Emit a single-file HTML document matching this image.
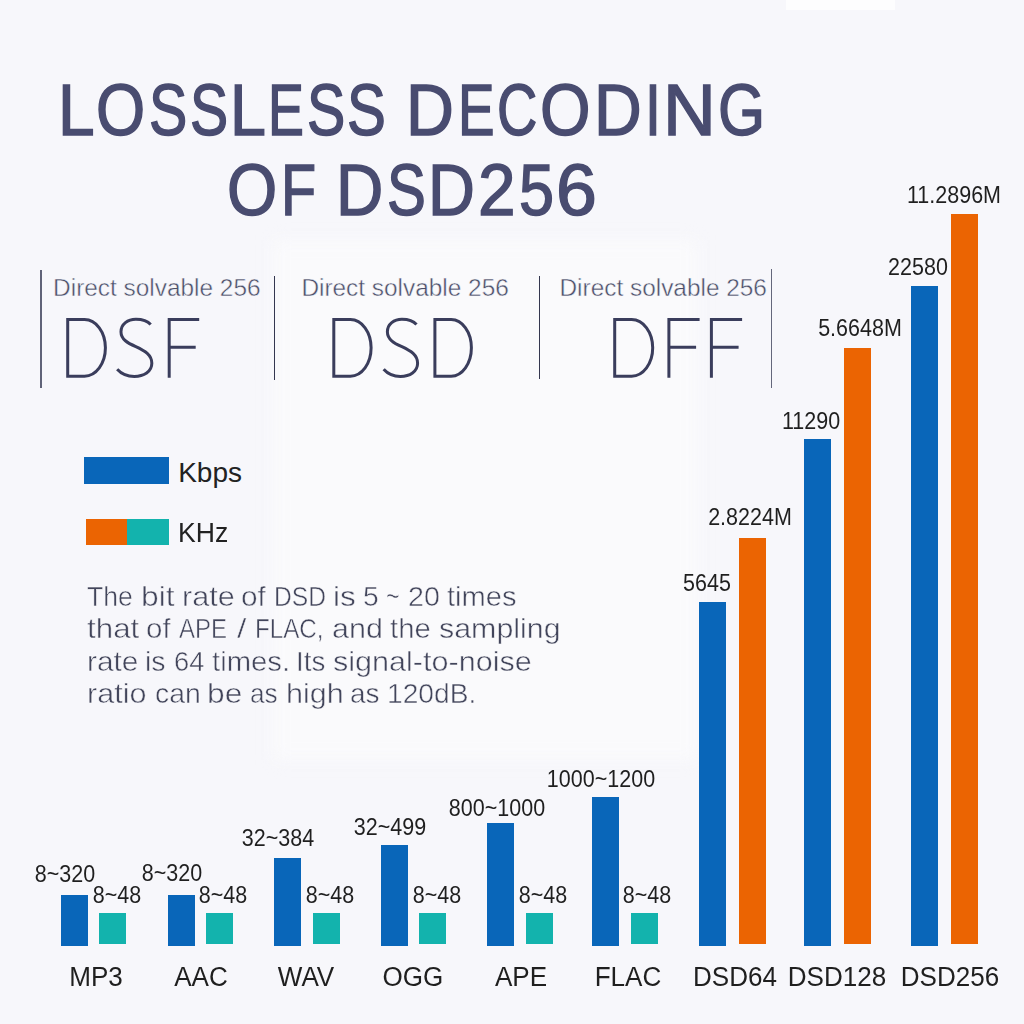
<!DOCTYPE html>
<html><head><meta charset="utf-8"><style>
html,body{margin:0;padding:0;}
body{width:1024px;height:1024px;overflow:hidden;position:relative;background:#f7f7fb;font-family:"Liberation Sans",sans-serif;}
.t{position:absolute;white-space:nowrap;line-height:1;}
.r{position:absolute;}
</style></head><body>
<div class="r" style="left:786px;top:0;width:109px;height:10px;background:#fdfdfe"></div>
<div class="r" style="left:273px;top:240px;width:425px;height:520px;background:#fafafc;filter:blur(8px)"></div>
<div class="t" style="left:57.69px;top:74.98px;font-size:71.5px;color:#494c70;transform-origin:0 0;transform:scaleX(0.9203);-webkit-text-stroke:1.5px #494c70;">L</div>
<div class="t" style="left:95.79px;top:74.98px;font-size:71.5px;color:#494c70;transform-origin:0 0;transform:scaleX(0.8841);-webkit-text-stroke:1.5px #494c70;">O</div>
<div class="t" style="left:148.66px;top:74.98px;font-size:71.5px;color:#494c70;transform-origin:0 0;transform:scaleX(0.8026);-webkit-text-stroke:1.5px #494c70;">S</div>
<div class="t" style="left:189.77px;top:74.98px;font-size:71.5px;color:#494c70;transform-origin:0 0;transform:scaleX(0.8002);-webkit-text-stroke:1.5px #494c70;">S</div>
<div class="t" style="left:230.29px;top:74.98px;font-size:71.5px;color:#494c70;transform-origin:0 0;transform:scaleX(0.9022);-webkit-text-stroke:1.5px #494c70;">L</div>
<div class="t" style="left:267.65px;top:74.98px;font-size:71.5px;color:#494c70;transform-origin:0 0;transform:scaleX(0.7527);-webkit-text-stroke:1.5px #494c70;">E</div>
<div class="t" style="left:306.76px;top:74.98px;font-size:71.5px;color:#494c70;transform-origin:0 0;transform:scaleX(0.8026);-webkit-text-stroke:1.5px #494c70;">S</div>
<div class="t" style="left:347.23px;top:74.98px;font-size:71.5px;color:#494c70;transform-origin:0 0;transform:scaleX(0.8143);-webkit-text-stroke:1.5px #494c70;">S</div>
<div class="t" style="left:405.96px;top:74.98px;font-size:71.5px;color:#494c70;transform-origin:0 0;transform:scaleX(0.9263);-webkit-text-stroke:1.5px #494c70;">D</div>
<div class="t" style="left:457.59px;top:74.98px;font-size:71.5px;color:#494c70;transform-origin:0 0;transform:scaleX(0.7652);-webkit-text-stroke:1.5px #494c70;">E</div>
<div class="t" style="left:497.44px;top:74.98px;font-size:71.5px;color:#494c70;transform-origin:0 0;transform:scaleX(0.7806);-webkit-text-stroke:1.5px #494c70;">C</div>
<div class="t" style="left:540.23px;top:74.98px;font-size:71.5px;color:#494c70;transform-origin:0 0;transform:scaleX(0.9079);-webkit-text-stroke:1.5px #494c70;">O</div>
<div class="t" style="left:593.58px;top:74.98px;font-size:71.5px;color:#494c70;transform-origin:0 0;transform:scaleX(0.9241);-webkit-text-stroke:1.5px #494c70;">D</div>
<div class="t" style="left:645.12px;top:74.98px;font-size:71.5px;color:#494c70;transform-origin:0 0;transform:scaleX(0.8028);-webkit-text-stroke:1.5px #494c70;">I</div>
<div class="t" style="left:662.87px;top:74.98px;font-size:71.5px;color:#494c70;transform-origin:0 0;transform:scaleX(1.0225);-webkit-text-stroke:1.5px #494c70;">N</div>
<div class="t" style="left:718.31px;top:74.98px;font-size:71.5px;color:#494c70;transform-origin:0 0;transform:scaleX(0.8467);-webkit-text-stroke:1.5px #494c70;">G</div>
<div class="t" style="left:227.45px;top:155.38px;font-size:71.5px;color:#494c70;transform-origin:0 0;transform:scaleX(0.9020);-webkit-text-stroke:1.5px #494c70;">O</div>
<div class="t" style="left:281.39px;top:155.38px;font-size:71.5px;color:#494c70;transform-origin:0 0;transform:scaleX(0.8035);-webkit-text-stroke:1.5px #494c70;">F</div>
<div class="t" style="left:336.02px;top:155.38px;font-size:71.5px;color:#494c70;transform-origin:0 0;transform:scaleX(0.9149);-webkit-text-stroke:1.5px #494c70;">D</div>
<div class="t" style="left:386.53px;top:155.38px;font-size:71.5px;color:#494c70;transform-origin:0 0;transform:scaleX(0.8143);-webkit-text-stroke:1.5px #494c70;">S</div>
<div class="t" style="left:427.96px;top:155.38px;font-size:71.5px;color:#494c70;transform-origin:0 0;transform:scaleX(0.9081);-webkit-text-stroke:1.5px #494c70;">D</div>
<div class="t" style="left:478.33px;top:155.38px;font-size:71.5px;color:#494c70;transform-origin:0 0;transform:scaleX(0.9442);-webkit-text-stroke:1.5px #494c70;">2</div>
<div class="t" style="left:518.84px;top:155.38px;font-size:71.5px;color:#494c70;transform-origin:0 0;transform:scaleX(0.8816);-webkit-text-stroke:1.5px #494c70;">5</div>
<div class="t" style="left:556.42px;top:155.38px;font-size:71.5px;color:#494c70;transform-origin:0 0;transform:scaleX(1.0272);-webkit-text-stroke:1.5px #494c70;">6</div>
<div class="t" style="left:53.10px;top:275.75px;font-size:24.4px;color:#4a4e68;-webkit-text-stroke:0.45px #f7f7fb;">Direct solvable 256</div>
<div class="t" style="left:301.40px;top:275.75px;font-size:24.4px;color:#4a4e68;-webkit-text-stroke:0.45px #f7f7fb;">Direct solvable 256</div>
<div class="t" style="left:559.50px;top:275.75px;font-size:24.4px;color:#4a4e68;-webkit-text-stroke:0.45px #f7f7fb;">Direct solvable 256</div>
<svg class="r" style="left:0;top:0" width="1024" height="420" viewBox="0 0 1024 420"><path d="M67.70,319.50H84.52A20.89,28.35 0 0 1 84.52,376.20H67.70Z M150.69,324.57C146.88,320.09 142.31,319.19 135.83,319.19C127.83,319.19 120.97,323.97 120.97,331.73C120.97,339.49 127.83,343.07 135.83,346.66C144.97,350.83 151.83,355.01 151.83,363.37C151.83,371.73 143.83,376.51 134.31,376.51C127.07,376.51 120.97,373.52 117.16,369.34 M169.20,377.70V319.50H199.20M169.20,347.25H195.70 M333.80,319.50H350.44A20.67,28.35 0 0 1 350.44,376.20H333.80Z M416.47,324.57C412.74,320.09 408.26,319.19 401.92,319.19C394.09,319.19 387.38,323.97 387.38,331.73C387.38,339.49 394.09,343.07 401.92,346.66C410.88,350.83 417.59,355.01 417.59,363.37C417.59,371.73 409.76,376.51 400.43,376.51C393.34,376.51 387.38,373.52 383.65,369.34 M434.90,319.50H451.17A20.23,28.35 0 0 1 451.17,376.20H434.90Z M614.70,319.50H631.65A21.05,28.35 0 0 1 631.65,376.20H614.70Z M668.90,377.70V319.50H699.60M668.90,347.25H696.10 M711.40,377.70V319.50H742.10M711.40,347.25H738.60" fill="none" stroke="#3a3d5c" stroke-width="3.0" stroke-linejoin="miter"/></svg>
<div class="r" style="left:40.35px;top:269.60px;width:1.30px;height:118.10px;background:#606378"></div>
<div class="r" style="left:273.70px;top:275.80px;width:1.60px;height:104.30px;background:#34374f"></div>
<div class="r" style="left:538.70px;top:275.80px;width:1.60px;height:103.70px;background:#34374f"></div>
<div class="r" style="left:771.05px;top:268.70px;width:1.30px;height:119.50px;background:#64677b"></div>
<div class="r" style="left:84.00px;top:457.00px;width:85.00px;height:27.00px;background:#0966b9"></div>
<div class="r" style="left:86.00px;top:518.70px;width:40.60px;height:26.30px;background:#eb6402"></div>
<div class="r" style="left:126.60px;top:518.70px;width:42.20px;height:26.30px;background:#13b3ad"></div>
<div class="t" style="left:178.20px;top:458.80px;font-size:28px;color:#222;">Kbps</div>
<div class="t" style="left:178.20px;top:519.00px;font-size:28px;color:#222;transform-origin:0 0;transform:scaleX(0.9500);">KHz</div>
<div class="t" style="left:86.51px;top:582.90px;font-size:28px;color:#42455b;transform-origin:0 0;transform:scaleX(0.9505);-webkit-text-stroke:0.5px #fafafc;">The</div>
<div class="t" style="left:140.94px;top:582.90px;font-size:28px;color:#42455b;transform-origin:0 0;transform:scaleX(1.1324);-webkit-text-stroke:0.5px #fafafc;">bit</div>
<div class="t" style="left:181.78px;top:582.90px;font-size:28px;color:#42455b;transform-origin:0 0;transform:scaleX(1.0938);-webkit-text-stroke:0.5px #fafafc;">rate</div>
<div class="t" style="left:240.55px;top:582.90px;font-size:28px;color:#42455b;transform-origin:0 0;transform:scaleX(1.0629);-webkit-text-stroke:0.5px #fafafc;">of</div>
<div class="t" style="left:274.08px;top:582.90px;font-size:28px;color:#42455b;transform-origin:0 0;transform:scaleX(0.8798);-webkit-text-stroke:0.5px #fafafc;">DSD</div>
<div class="t" style="left:332.59px;top:582.90px;font-size:28px;color:#42455b;transform-origin:0 0;transform:scaleX(1.1251);-webkit-text-stroke:0.5px #fafafc;">is</div>
<div class="t" style="left:362.87px;top:582.90px;font-size:28px;color:#42455b;transform-origin:0 0;transform:scaleX(1.0096);-webkit-text-stroke:0.5px #fafafc;">5</div>
<div class="t" style="left:385.65px;top:582.90px;font-size:28px;color:#42455b;transform-origin:0 0;transform:scaleX(0.8314);-webkit-text-stroke:0.5px #fafafc;">~</div>
<div class="t" style="left:407.77px;top:582.90px;font-size:28px;color:#42455b;transform-origin:0 0;transform:scaleX(1.0229);-webkit-text-stroke:0.5px #fafafc;">20</div>
<div class="t" style="left:446.56px;top:582.90px;font-size:28px;color:#42455b;transform-origin:0 0;transform:scaleX(1.0387);-webkit-text-stroke:0.5px #fafafc;">times</div>
<div class="t" style="left:86.83px;top:615.10px;font-size:28px;color:#42455b;transform-origin:0 0;transform:scaleX(1.1196);-webkit-text-stroke:0.5px #fafafc;">that</div>
<div class="t" style="left:145.86px;top:615.10px;font-size:28px;color:#42455b;transform-origin:0 0;transform:scaleX(1.0539);-webkit-text-stroke:0.5px #fafafc;">of</div>
<div class="t" style="left:178.65px;top:615.10px;font-size:28px;color:#42455b;transform-origin:0 0;transform:scaleX(0.8563);-webkit-text-stroke:0.5px #fafafc;">APE</div>
<div class="t" style="left:237.30px;top:615.10px;font-size:28px;color:#42455b;transform-origin:0 0;transform:scaleX(1.2076);-webkit-text-stroke:0.5px #fafafc;">/</div>
<div class="t" style="left:255.32px;top:615.10px;font-size:28px;color:#42455b;transform-origin:0 0;transform:scaleX(0.8640);-webkit-text-stroke:0.5px #fafafc;">FLAC,</div>
<div class="t" style="left:332.02px;top:615.10px;font-size:28px;color:#42455b;transform-origin:0 0;transform:scaleX(1.0883);-webkit-text-stroke:0.5px #fafafc;">and</div>
<div class="t" style="left:390.26px;top:615.10px;font-size:28px;color:#42455b;transform-origin:0 0;transform:scaleX(1.0465);-webkit-text-stroke:0.5px #fafafc;">the</div>
<div class="t" style="left:438.65px;top:615.10px;font-size:28px;color:#42455b;transform-origin:0 0;transform:scaleX(1.0851);-webkit-text-stroke:0.5px #fafafc;">sampling</div>
<div class="t" style="left:86.53px;top:647.90px;font-size:28px;color:#42455b;transform-origin:0 0;transform:scaleX(1.0650);-webkit-text-stroke:0.5px #fafafc;">rate</div>
<div class="t" style="left:145.19px;top:647.90px;font-size:28px;color:#42455b;transform-origin:0 0;transform:scaleX(1.0155);-webkit-text-stroke:0.5px #fafafc;">is</div>
<div class="t" style="left:173.81px;top:647.90px;font-size:28px;color:#42455b;transform-origin:0 0;transform:scaleX(0.9759);-webkit-text-stroke:0.5px #fafafc;">64</div>
<div class="t" style="left:212.26px;top:647.90px;font-size:28px;color:#42455b;transform-origin:0 0;transform:scaleX(1.0459);-webkit-text-stroke:0.5px #fafafc;">times.</div>
<div class="t" style="left:295.95px;top:647.90px;font-size:28px;color:#42455b;transform-origin:0 0;transform:scaleX(0.9891);-webkit-text-stroke:0.5px #fafafc;">Its</div>
<div class="t" style="left:333.14px;top:647.90px;font-size:28px;color:#42455b;transform-origin:0 0;transform:scaleX(1.0913);-webkit-text-stroke:0.5px #fafafc;">signal-to-noise</div>
<div class="t" style="left:86.68px;top:680.40px;font-size:28px;color:#42455b;transform-origin:0 0;transform:scaleX(1.0907);-webkit-text-stroke:0.5px #fafafc;">ratio</div>
<div class="t" style="left:154.61px;top:680.40px;font-size:28px;color:#42455b;transform-origin:0 0;transform:scaleX(1.0133);-webkit-text-stroke:0.5px #fafafc;">can</div>
<div class="t" style="left:207.44px;top:680.40px;font-size:28px;color:#42455b;transform-origin:0 0;transform:scaleX(1.1323);-webkit-text-stroke:0.5px #fafafc;">be</div>
<div class="t" style="left:249.90px;top:680.40px;font-size:28px;color:#42455b;transform-origin:0 0;transform:scaleX(0.9349);-webkit-text-stroke:0.5px #fafafc;">as</div>
<div class="t" style="left:285.69px;top:680.40px;font-size:28px;color:#42455b;transform-origin:0 0;transform:scaleX(1.0922);-webkit-text-stroke:0.5px #fafafc;">high</div>
<div class="t" style="left:350.13px;top:680.40px;font-size:28px;color:#42455b;transform-origin:0 0;transform:scaleX(0.9969);-webkit-text-stroke:0.5px #fafafc;">as</div>
<div class="t" style="left:387.26px;top:680.40px;font-size:28px;color:#42455b;transform-origin:0 0;transform:scaleX(1.0061);-webkit-text-stroke:0.5px #fafafc;">120dB.</div>
<div class="r" style="left:61.00px;top:895.00px;width:27.00px;height:50.60px;background:#0966b9"></div>
<div class="r" style="left:99.20px;top:913.00px;width:27.00px;height:30.80px;background:#13b3ad"></div>
<div class="r" style="left:168.00px;top:895.00px;width:27.00px;height:50.60px;background:#0966b9"></div>
<div class="r" style="left:206.00px;top:913.00px;width:27.00px;height:30.80px;background:#13b3ad"></div>
<div class="r" style="left:274.00px;top:858.00px;width:27.00px;height:87.60px;background:#0966b9"></div>
<div class="r" style="left:312.50px;top:913.00px;width:27.00px;height:30.80px;background:#13b3ad"></div>
<div class="r" style="left:381.00px;top:845.00px;width:27.00px;height:100.60px;background:#0966b9"></div>
<div class="r" style="left:419.00px;top:913.00px;width:27.00px;height:30.80px;background:#13b3ad"></div>
<div class="r" style="left:487.00px;top:823.00px;width:27.00px;height:122.60px;background:#0966b9"></div>
<div class="r" style="left:525.70px;top:913.00px;width:27.00px;height:30.80px;background:#13b3ad"></div>
<div class="r" style="left:592.00px;top:797.00px;width:27.00px;height:148.60px;background:#0966b9"></div>
<div class="r" style="left:630.50px;top:913.00px;width:27.00px;height:30.80px;background:#13b3ad"></div>
<div class="r" style="left:699.00px;top:601.70px;width:27.00px;height:343.90px;background:#0966b9"></div>
<div class="r" style="left:738.50px;top:537.50px;width:27.00px;height:406.30px;background:#eb6402"></div>
<div class="r" style="left:804.00px;top:439.30px;width:27.00px;height:506.30px;background:#0966b9"></div>
<div class="r" style="left:843.50px;top:348.00px;width:27.00px;height:595.80px;background:#eb6402"></div>
<div class="r" style="left:910.50px;top:286.30px;width:27.00px;height:659.30px;background:#0966b9"></div>
<div class="r" style="left:950.50px;top:214.20px;width:27.00px;height:729.60px;background:#eb6402"></div>
<div class="t" style="left:15.50px;top:963.84px;width:160px;text-align:center;font-size:27px;color:#1f1f1f;transform:scaleX(0.9650);">MP3</div>
<div class="t" style="left:121.00px;top:963.84px;width:160px;text-align:center;font-size:27px;color:#1f1f1f;transform:scaleX(0.9650);">AAC</div>
<div class="t" style="left:226.00px;top:963.84px;width:160px;text-align:center;font-size:27px;color:#1f1f1f;transform:scaleX(0.9650);">WAV</div>
<div class="t" style="left:333.00px;top:963.84px;width:160px;text-align:center;font-size:27px;color:#1f1f1f;transform:scaleX(0.9650);">OGG</div>
<div class="t" style="left:441.00px;top:963.84px;width:160px;text-align:center;font-size:27px;color:#1f1f1f;transform:scaleX(0.9650);">APE</div>
<div class="t" style="left:548.00px;top:963.84px;width:160px;text-align:center;font-size:27px;color:#1f1f1f;transform:scaleX(0.9650);">FLAC</div>
<div class="t" style="left:654.50px;top:963.84px;width:160px;text-align:center;font-size:27px;color:#1f1f1f;transform:scaleX(0.9650);">DSD64</div>
<div class="t" style="left:756.50px;top:963.84px;width:160px;text-align:center;font-size:27px;color:#1f1f1f;transform:scaleX(0.9650);">DSD128</div>
<div class="t" style="left:870.00px;top:963.84px;width:160px;text-align:center;font-size:27px;color:#1f1f1f;transform:scaleX(0.9650);">DSD256</div>
<div class="t" style="left:-15.00px;top:862.53px;width:160px;text-align:center;font-size:23px;color:#1f1f1f;transform:scaleX(0.9350);">8~320</div>
<div class="t" style="left:37.30px;top:884.23px;width:160px;text-align:center;font-size:23px;color:#1f1f1f;transform:scaleX(0.9350);">8~48</div>
<div class="t" style="left:91.50px;top:862.03px;width:160px;text-align:center;font-size:23px;color:#1f1f1f;transform:scaleX(0.9350);">8~320</div>
<div class="t" style="left:143.30px;top:883.83px;width:160px;text-align:center;font-size:23px;color:#1f1f1f;transform:scaleX(0.9350);">8~48</div>
<div class="t" style="left:198.00px;top:827.03px;width:160px;text-align:center;font-size:23px;color:#1f1f1f;transform:scaleX(0.9350);">32~384</div>
<div class="t" style="left:250.20px;top:883.83px;width:160px;text-align:center;font-size:23px;color:#1f1f1f;transform:scaleX(0.9350);">8~48</div>
<div class="t" style="left:310.00px;top:816.03px;width:160px;text-align:center;font-size:23px;color:#1f1f1f;transform:scaleX(0.9350);">32~499</div>
<div class="t" style="left:356.50px;top:883.83px;width:160px;text-align:center;font-size:23px;color:#1f1f1f;transform:scaleX(0.9350);">8~48</div>
<div class="t" style="left:416.50px;top:797.03px;width:160px;text-align:center;font-size:23px;color:#1f1f1f;transform:scaleX(0.9350);">800~1000</div>
<div class="t" style="left:463.00px;top:883.83px;width:160px;text-align:center;font-size:23px;color:#1f1f1f;transform:scaleX(0.9350);">8~48</div>
<div class="t" style="left:520.70px;top:768.33px;width:160px;text-align:center;font-size:23px;color:#1f1f1f;transform:scaleX(0.9350);">1000~1200</div>
<div class="t" style="left:566.70px;top:883.83px;width:160px;text-align:center;font-size:23px;color:#1f1f1f;transform:scaleX(0.9350);">8~48</div>
<div class="t" style="left:627.00px;top:571.83px;width:160px;text-align:center;font-size:23px;color:#1f1f1f;transform:scaleX(0.9350);">5645</div>
<div class="t" style="left:670.00px;top:506.23px;width:160px;text-align:center;font-size:23px;color:#1f1f1f;transform:scaleX(0.9350);">2.8224M</div>
<div class="t" style="left:731.00px;top:409.73px;width:160px;text-align:center;font-size:23px;color:#1f1f1f;transform:scaleX(0.9350);">11290</div>
<div class="t" style="left:779.50px;top:316.73px;width:160px;text-align:center;font-size:23px;color:#1f1f1f;transform:scaleX(0.9350);">5.6648M</div>
<div class="t" style="left:838.40px;top:256.43px;width:160px;text-align:center;font-size:23px;color:#1f1f1f;transform:scaleX(0.9350);">22580</div>
<div class="t" style="left:874.00px;top:184.33px;width:160px;text-align:center;font-size:23px;color:#1f1f1f;transform:scaleX(0.9350);">11.2896M</div>
</body></html>
